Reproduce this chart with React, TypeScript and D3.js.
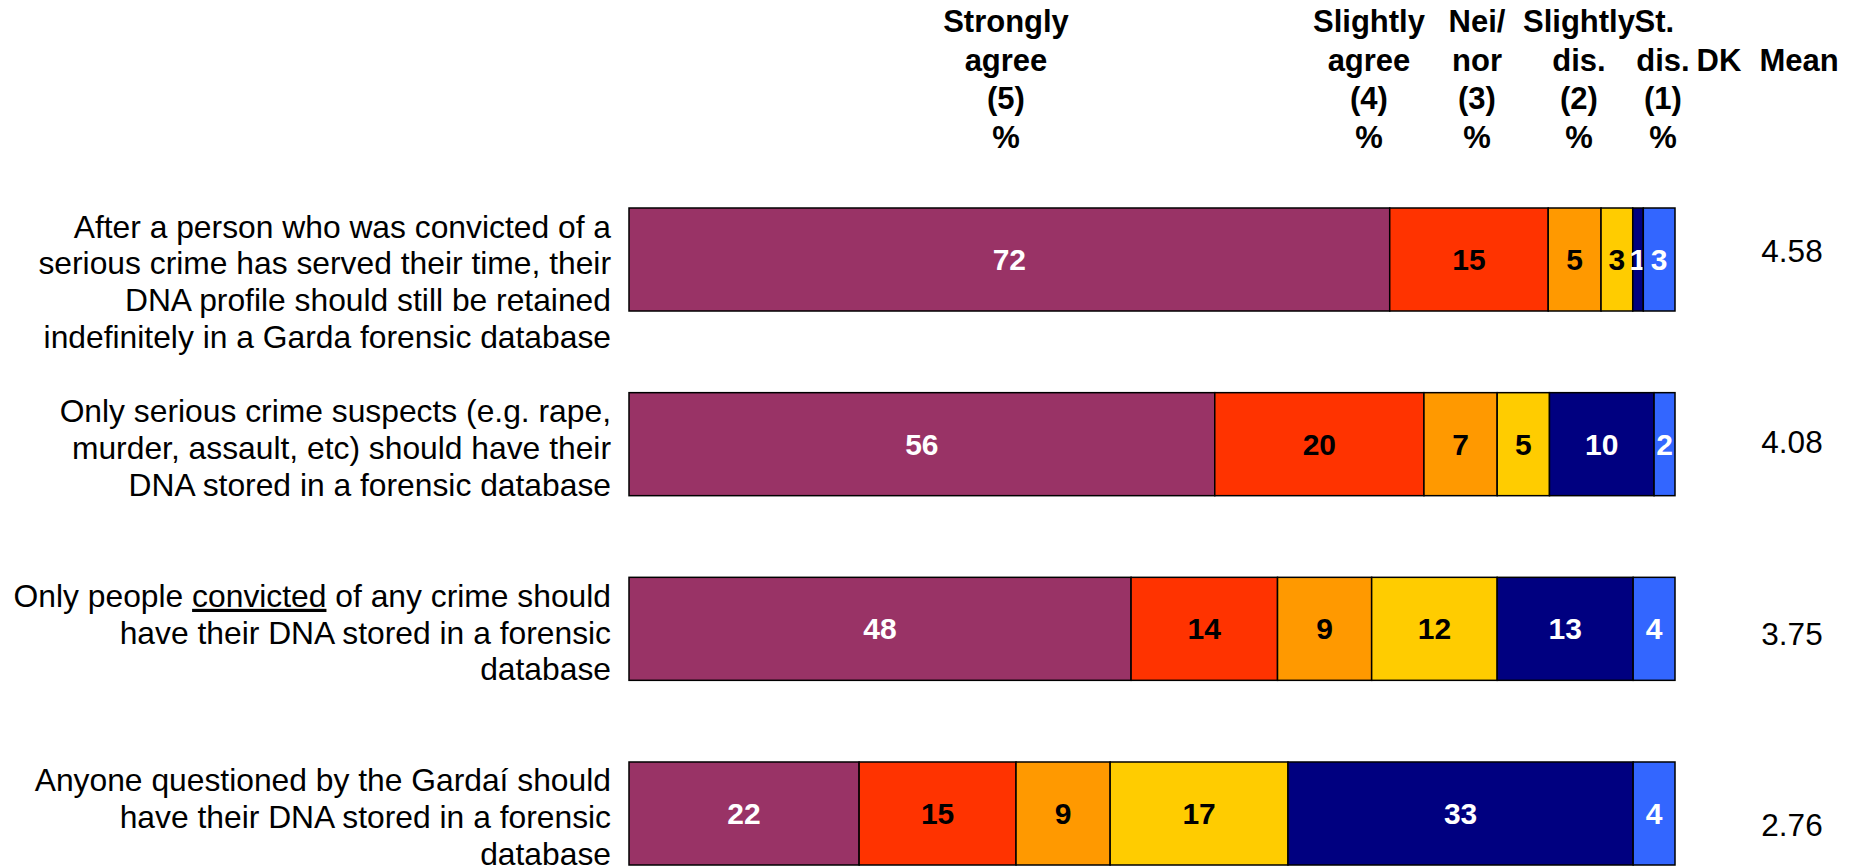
import React from "react";
import * as d3 from "d3";

const categoryLines: string[][] = [
  ["After a person who was convicted of a", "serious crime has served their time, their", "DNA profile should still be retained", "indefinitely in a Garda forensic database"],
  ["Only serious crime suspects (e.g. rape,", "murder, assault, etc) should have their", "DNA stored in a forensic database"],
  ["Only people |convicted| of any crime should", "have their DNA stored in a forensic", "database"],
  ["Anyone questioned by the Gardaí should", "have their DNA stored in a forensic", "database"],
];

const seriesKeys = ["sa", "a", "n", "d", "sd", "dk"];
const stronglyAgree = [72, 56, 48, 22];
const slightlyAgree = [15, 20, 14, 15];
const neither = [5, 7, 9, 9];
const slightlyDisagree = [3, 5, 12, 17];
const stronglyDisagree = [1, 10, 13, 33];
const dontKnow = [3, 2, 4, 4];
const means = ["4.58", "4.08", "3.75", "2.76"];

const seriesColors = ["#993366", "#FF3300", "#FF9900", "#FFCC00", "#000080", "#3366FF"];
const labelColors = ["#FFFFFF", "#000000", "#000000", "#000000", "#FFFFFF", "#FFFFFF"];

const headerLines: string[][] = [
  ["Strongly", "agree", "(5)", "%"],
  ["Slightly", "agree", "(4)", "%"],
  ["Nei/", "nor", "(3)", "%"],
  ["Slightly", "dis.", "(2)", "%"],
  ["St.\u00a0\u00a0", "dis.", "(1)", "%"],
  ["", "DK", "", ""],
  ["", "Mean", "", ""],
];

const FONT = "'Liberation Sans', Arial, Helvetica, sans-serif";

export default function App() {
  const W = 1854;
  const H = 866;
  const rows = stronglyAgree.map((_, i) => ({
    idx: i,
    sa: stronglyAgree[i],
    a: slightlyAgree[i],
    n: neither[i],
    d: slightlyDisagree[i],
    sd: stronglyDisagree[i],
    dk: dontKnow[i],
  }));
  const stack = d3.stack<any>().keys(seriesKeys).offset(d3.stackOffsetExpand);
  const layers = stack(rows);

  const x = d3.scaleLinear().domain([0, 1]).range([629, 1675]);
  const y = d3
    .scaleBand<number>()
    .domain(rows.map((r) => r.idx))
    .range([208, 865])
    .paddingInner(0.4422)
    .paddingOuter(0);
  const meanY = d3.scalePoint<number>().domain(rows.map((r) => r.idx)).range([251, 825]);
  const headerX = d3
    .scaleOrdinal<number, number>()
    .domain(d3.range(headerLines.length))
    .range([1006, 1369, 1477, 1579, 1663, 1719, 1799]);
  const headerY = d3.scaleLinear().domain([0, 1]).range([32, 70.5]);

  const bw = y.bandwidth();
  const labelFs = 31.8;
  const lineGap = 36.8;

  return (
    <svg width={W} height={H} style={{ position: "absolute", left: 0, top: 0, background: "#fff" }} fontFamily={FONT}>
      <rect x={0} y={0} width={W} height={H} fill="#fff" />
      {/* headers */}
      {headerLines.map((lines, ci) => (
        <g key={"h" + ci}>
          {lines.map((t, li) =>
            t ? (
              <text key={li} x={headerX(ci)} y={headerY(li)} textAnchor="middle" fontWeight="bold" fontSize={31} fill="#000">
                {t}
              </text>
            ) : null
          )}
        </g>
      ))}
      {/* category labels */}
      {categoryLines.map((lines, i) => {
        const cy = (y(i) as number) + bw / 2;
        return (
          <g key={"c" + i}>
            {lines.map((ln, li) => {
              const parts = ln.split("|");
              return (
                <text key={li} x={611} y={cy - 22 + li * lineGap} textAnchor="end" fontSize={labelFs} fill="#000">
                  {parts.map((p, pi) => (
                    <tspan key={pi} textDecoration={pi % 2 === 1 ? "underline" : undefined}>
                      {p}
                    </tspan>
                  ))}
                </text>
              );
            })}
          </g>
        );
      })}
      {/* bars */}
      {layers.map((layer, si) => (
        <g key={"s" + si}>
          {layer.map((seg, i) => {
            const x0 = x(seg[0]);
            const x1 = x(seg[1]);
            const yy = y(i) as number;
            const val = (rows[i] as any)[seriesKeys[si]];
            return (
              <g key={i}>
                <rect x={x0} y={yy} width={x1 - x0} height={bw} fill={seriesColors[si]} stroke="#000" strokeWidth={1.5} />
                <text
                  x={(x0 + x1) / 2}
                  y={yy + bw / 2 + 10.5}
                  textAnchor="middle"
                  fontWeight="bold"
                  fontSize={30}
                  fill={labelColors[si]}
                >
                  {val}
                </text>
              </g>
            );
          })}
        </g>
      ))}
      {/* means */}
      {means.map((m, i) => (
        <text key={"m" + i} x={1792} y={(meanY(i) as number) + 11} textAnchor="middle" fontSize={31.5} fill="#000">
          {m}
        </text>
      ))}
    </svg>
  );
}
